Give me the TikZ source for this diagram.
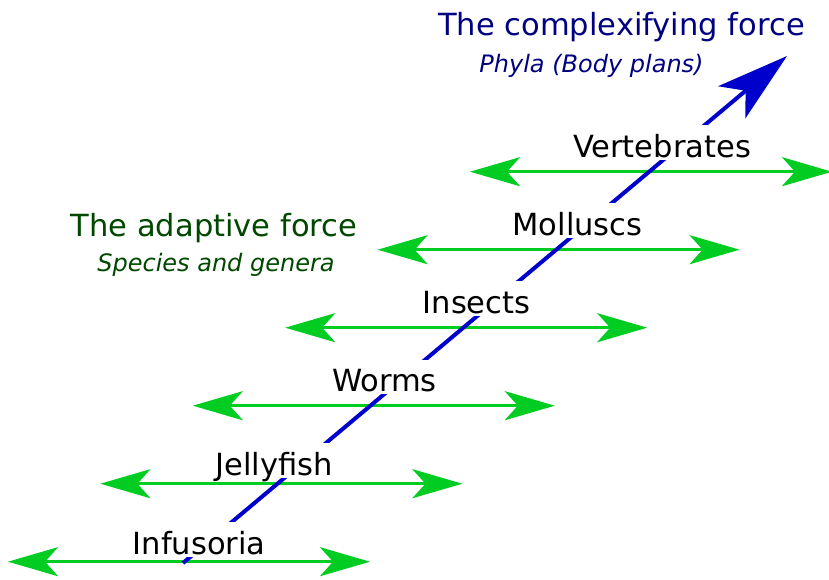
\documentclass[tikz,border=0pt]{standalone}
\usepackage{fontspec}
\setmainfont{DejaVu Sans}
\usetikzlibrary{arrows.meta}
\definecolor{arrowgreen}{RGB}{0,204,34}
\definecolor{lineblue}{RGB}{0,0,204}
\definecolor{titleblue}{RGB}{0,0,128}
\definecolor{titlegreen}{RGB}{0,72,0}
\begin{document}
\begin{tikzpicture}[x=0.75pt,y=-0.75pt,
  greentip/.tip={Stealth[length=37.5pt,width=21.75pt,inset=9.75pt]},
  bluetip/.tip={Stealth[length=54pt,width=31.5pt,inset=13.5pt]},
  adaptive/.style={draw=arrowgreen, line width=2.25pt, greentip-greentip},
  complexline/.style={draw=lineblue, line width=3pt, -bluetip},
  taxon/.style={fill=white, font=\fontsize{22.9}{27}\selectfont, anchor=base,
    text height=23pt, text depth=1pt, inner xsep=2pt, inner ysep=1pt},
  bigtitle/.style={font=\fontsize{22.9}{27}\selectfont, anchor=base, inner sep=0pt},
  subtitle/.style={font=\fontsize{18}{22}\selectfont\itshape, anchor=base, inner sep=0pt}]
\useasboundingbox (0,0) rectangle (829,579);
% green horizontal arrows
\foreach \k in {0,...,5}{
  \coordinate (L\k) at ({8+92.4*\k},{561.7-78*\k});
  \coordinate (R\k) at ({370+92.4*\k},{561.7-78*\k});
  \draw[adaptive] (L\k) -- (R\k);
}
% blue diagonal arrow
\coordinate (B0) at (183,563);
\coordinate (B1) at (787,56);
\draw[complexline] (B0) -- (B1);
% taxon labels
\node[taxon] (inf) at (199.2,554.3) {Infusoria};
\node[taxon] (jel) at (274,475) {Jellyfish};
\node[taxon] (wor) at (384.5,391.7) {Worms};
\node[taxon] (ins) at (476.5,313.3) {Insects};
\node[taxon] (mol) at (577.5,235) {Molluscs};
\node[taxon] (ver) at (662,157.3) {Vertebrates};
% titles
\node[bigtitle, text=titleblue] (ct) at (621.5,35) {The complexifying force};
\node[subtitle, text=titleblue] (cs) at (591.5,72.7) {Phyla (Body plans)};
\node[bigtitle, text=titlegreen] (at) at (214,236.7) {The adaptive force};
\node[subtitle, text=titlegreen] (as) at (216,271.7) {Species and genera};
\end{tikzpicture}
\end{document}
